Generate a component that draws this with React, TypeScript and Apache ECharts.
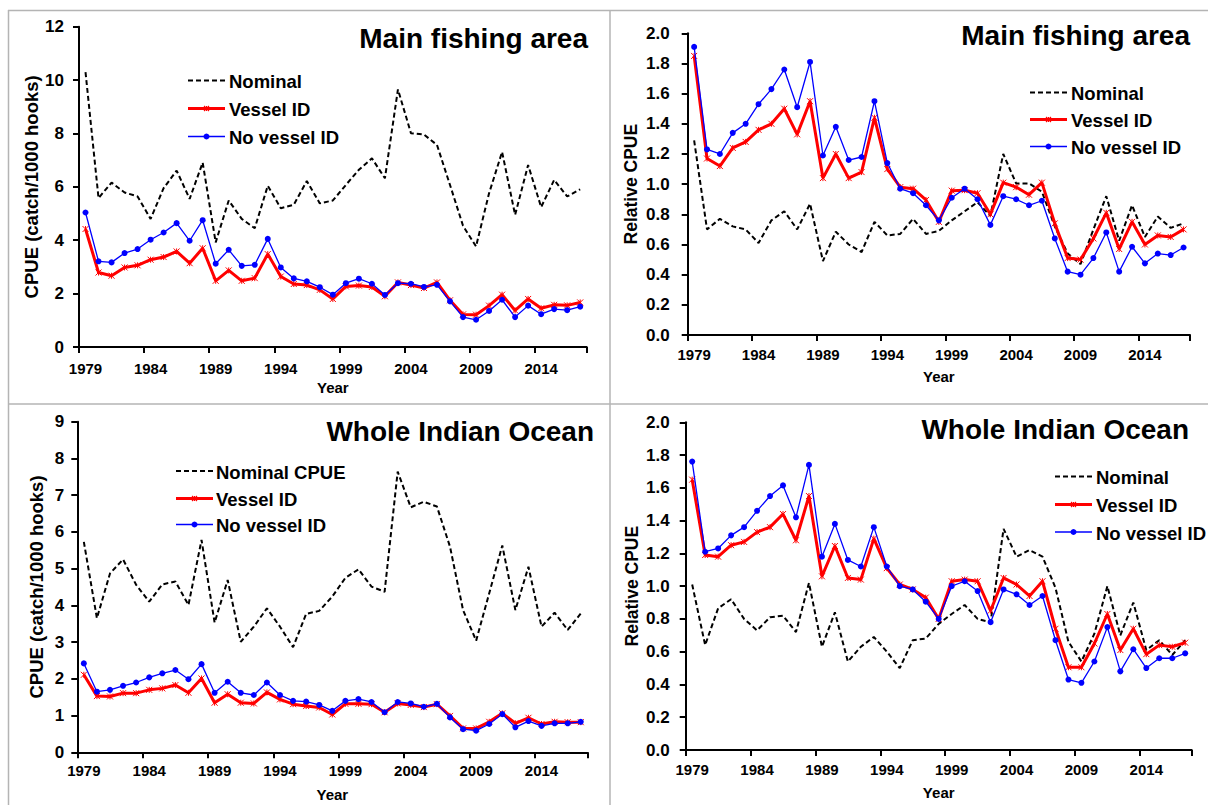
import React, { useEffect, useRef } from "react";
import * as echarts from "echarts";

// Fishing years shown on every panel
const years = [
  "1979", "1980", "1981", "1982", "1983", "1984", "1985", "1986", "1987", "1988",
  "1989", "1990", "1991", "1992", "1993", "1994", "1995", "1996", "1997", "1998",
  "1999", "2000", "2001", "2002", "2003", "2004", "2005", "2006", "2007", "2008",
  "2009", "2010", "2011", "2012", "2013", "2014", "2015", "2016", "2017",
];

// Main fishing area, CPUE (catch/1000 hooks)
const mainNominal = [10.3, 5.58, 6.16, 5.79, 5.64, 4.8, 5.95, 6.61, 5.55, 6.91, 3.92, 5.49, 4.8, 4.45, 6.04, 5.2, 5.33, 6.22, 5.38, 5.49, 6.07, 6.64, 7.07, 6.32, 9.65, 8.01, 7.96, 7.57, 6.07, 4.54, 3.77, 5.76, 7.31, 4.95, 6.82, 5.24, 6.26, 5.64, 5.91];
const mainVessel = [4.42, 2.79, 2.67, 2.98, 3.06, 3.27, 3.37, 3.58, 3.14, 3.7, 2.48, 2.87, 2.48, 2.58, 3.48, 2.64, 2.36, 2.32, 2.14, 1.8, 2.27, 2.3, 2.25, 1.9, 2.42, 2.32, 2.21, 2.42, 1.75, 1.22, 1.21, 1.55, 1.96, 1.37, 1.8, 1.45, 1.58, 1.56, 1.67];
const mainNoVessel = [5.04, 3.21, 3.17, 3.52, 3.67, 4.02, 4.29, 4.64, 3.98, 4.75, 3.12, 3.64, 3.04, 3.08, 4.05, 2.98, 2.57, 2.46, 2.24, 1.96, 2.39, 2.56, 2.37, 1.95, 2.39, 2.37, 2.25, 2.33, 1.71, 1.12, 1.02, 1.35, 1.77, 1.12, 1.55, 1.23, 1.42, 1.38, 1.51];

// Main fishing area, relative CPUE
const mainRelNominal = [1.29, 0.7, 0.77, 0.72, 0.7, 0.61, 0.76, 0.82, 0.7, 0.87, 0.49, 0.685, 0.6, 0.55, 0.75, 0.66, 0.67, 0.77, 0.67, 0.69, 0.76, 0.82, 0.88, 0.79, 1.2, 1.005, 1.005, 0.95, 0.72, 0.54, 0.47, 0.7, 0.92, 0.625, 0.86, 0.65, 0.785, 0.71, 0.74];
const mainRelVessel = [1.85, 1.17, 1.12, 1.24, 1.28, 1.36, 1.4, 1.5, 1.33, 1.55, 1.04, 1.2, 1.04, 1.08, 1.44, 1.1, 0.98, 0.97, 0.895, 0.75, 0.957, 0.96, 0.94, 0.8, 1.01, 0.98, 0.93, 1.01, 0.74, 0.51, 0.5, 0.64, 0.81, 0.57, 0.75, 0.6, 0.66, 0.65, 0.7];
const mainRelNoVessel = [1.91, 1.23, 1.2, 1.34, 1.4, 1.53, 1.63, 1.76, 1.51, 1.81, 1.19, 1.38, 1.16, 1.18, 1.55, 1.14, 0.97, 0.94, 0.86, 0.76, 0.91, 0.97, 0.9, 0.73, 0.92, 0.9, 0.86, 0.89, 0.64, 0.42, 0.4, 0.51, 0.68, 0.42, 0.585, 0.475, 0.54, 0.53, 0.58];

// Whole Indian Ocean, CPUE (catch/1000 hooks)
const wholeNominal = [5.73, 3.65, 4.87, 5.25, 4.56, 4.1, 4.57, 4.65, 4.01, 5.78, 3.53, 4.69, 3.01, 3.42, 3.92, 3.42, 2.86, 3.77, 3.85, 4.24, 4.75, 4.98, 4.51, 4.37, 7.64, 6.67, 6.82, 6.69, 5.6, 3.87, 3.04, 4.33, 5.63, 3.87, 5.05, 3.42, 3.8, 3.33, 3.78];
const wholeVessel = [2.11, 1.53, 1.52, 1.61, 1.61, 1.7, 1.74, 1.83, 1.62, 2.01, 1.35, 1.58, 1.35, 1.33, 1.63, 1.44, 1.31, 1.26, 1.22, 1.03, 1.32, 1.32, 1.31, 1.09, 1.33, 1.29, 1.23, 1.31, 0.99, 0.65, 0.65, 0.83, 1.06, 0.79, 0.94, 0.77, 0.83, 0.82, 0.82];
const wholeNoVessel = [2.42, 1.65, 1.7, 1.81, 1.9, 2.04, 2.15, 2.24, 1.99, 2.4, 1.62, 1.92, 1.62, 1.56, 1.9, 1.56, 1.4, 1.38, 1.29, 1.13, 1.4, 1.45, 1.37, 1.09, 1.37, 1.33, 1.24, 1.32, 0.95, 0.63, 0.59, 0.77, 1.04, 0.68, 0.85, 0.72, 0.79, 0.79, 0.83];

// Whole Indian Ocean, relative CPUE
const wholeRelNominal = [1.01, 0.64, 0.865, 0.92, 0.8, 0.73, 0.81, 0.82, 0.72, 1.02, 0.63, 0.84, 0.54, 0.63, 0.69, 0.6, 0.5, 0.67, 0.68, 0.77, 0.83, 0.885, 0.8, 0.78, 1.35, 1.18, 1.22, 1.18, 0.99, 0.66, 0.54, 0.71, 1.0, 0.7, 0.9, 0.61, 0.67, 0.58, 0.67];
const wholeRelVessel = [1.65, 1.19, 1.18, 1.25, 1.27, 1.33, 1.36, 1.44, 1.28, 1.55, 1.06, 1.245, 1.05, 1.04, 1.29, 1.11, 1.01, 0.98, 0.93, 0.8, 1.03, 1.04, 1.03, 0.85, 1.05, 1.01, 0.94, 1.03, 0.74, 0.505, 0.505, 0.65, 0.83, 0.61, 0.74, 0.585, 0.64, 0.63, 0.655];
const wholeRelNoVessel = [1.76, 1.21, 1.23, 1.31, 1.36, 1.46, 1.55, 1.615, 1.42, 1.74, 1.18, 1.38, 1.16, 1.12, 1.36, 1.12, 1.0, 0.98, 0.905, 0.8, 1.0, 1.03, 0.97, 0.78, 0.98, 0.95, 0.885, 0.94, 0.67, 0.43, 0.41, 0.54, 0.75, 0.48, 0.615, 0.5, 0.56, 0.56, 0.59];

const FONT = "'Liberation Sans', Arial, Helvetica, sans-serif";
const STAR = "path://M0,0L8,8M8,0L0,8M4,0L4,8";
const RED = "#ff0000";
const BLUE = "#0000ff";
const BORDER = "#b4b4b4";

type Panel = {
  grid: { left: number; top: number; width: number; height: number };
  yMax: number;
  yStep: number;
  decimals: number;
  yName: string;
  yNameSize: number;
  yNameGap: number;
  yLabelMargin: number;
  xNameGap: number;
  xLabelMargin: number;
  title: string;
  titleX: number;
  titleY: number;
  legend: { x1: number; x2: number; tx: number; rows: number[] };
  names: string[];
  nominal: number[];
  vessel: number[];
  noVessel: number[];
};

const panels: Panel[] = [
  {
    grid: { left: 79, top: 26.7, width: 507.7, height: 320.3 },
    yMax: 12, yStep: 2, decimals: 0,
    yName: "CPUE (catch/1000 hooks)", yNameSize: 18.5, yNameGap: 37, yLabelMargin: 15,
    xNameGap: 33, xLabelMargin: 14,
    title: "Main fishing area", titleX: 588, titleY: 38.5,
    legend: { x1: 188, x2: 225, tx: 229, rows: [80.5, 108.5, 136.5] },
    names: ["Nominal", "Vessel ID", "No vessel ID"],
    nominal: mainNominal, vessel: mainVessel, noVessel: mainNoVessel,
  },
  {
    grid: { left: 687.7, top: 33.3, width: 502.3, height: 301.7 },
    yMax: 2, yStep: 0.2, decimals: 1,
    yName: "Relative CPUE", yNameSize: 17.5, yNameGap: 48, yLabelMargin: 18,
    xNameGap: 34, xLabelMargin: 12,
    title: "Main fishing area", titleX: 1190, titleY: 35,
    legend: { x1: 1030, x2: 1067, tx: 1071, rows: [92.5, 119.5, 146.5] },
    names: ["Nominal", "Vessel ID", "No vessel ID"],
    nominal: mainRelNominal, vessel: mainRelVessel, noVessel: mainRelNoVessel,
  },
  {
    grid: { left: 77.3, top: 421.7, width: 510, height: 330.6 },
    yMax: 9, yStep: 1, decimals: 0,
    yName: "CPUE (catch/1000 hooks)", yNameSize: 18.5, yNameGap: 31, yLabelMargin: 13,
    xNameGap: 35, xLabelMargin: 11,
    title: "Whole Indian Ocean", titleX: 594, titleY: 431,
    legend: { x1: 176, x2: 213, tx: 216, rows: [471, 498.5, 524.5] },
    names: ["Nominal CPUE", "Vessel ID", "No vessel ID"],
    nominal: wholeNominal, vessel: wholeVessel, noVessel: wholeNoVessel,
  },
  {
    grid: { left: 685.7, top: 422.3, width: 506, height: 327.7 },
    yMax: 2, yStep: 0.2, decimals: 1,
    yName: "Relative CPUE", yNameSize: 17.5, yNameGap: 45, yLabelMargin: 16,
    xNameGap: 35, xLabelMargin: 12,
    title: "Whole Indian Ocean", titleX: 1189, titleY: 429,
    legend: { x1: 1055, x2: 1092, tx: 1096, rows: [476.5, 504.5, 532] },
    names: ["Nominal", "Vessel ID", "No vessel ID"],
    nominal: wholeRelNominal, vessel: wholeRelVessel, noVessel: wholeRelNoVessel,
  },
];

const axisLineStyle = { color: "#000", width: 2 };

function starMarker(cx: number, cy: number, s: number) {
  const h = s / 2;
  const st = { stroke: RED, lineWidth: 1.1 };
  return [
    { type: "line", shape: { x1: cx - h, y1: cy - h, x2: cx + h, y2: cy + h }, style: st, z: 12 },
    { type: "line", shape: { x1: cx + h, y1: cy - h, x2: cx - h, y2: cy + h }, style: st, z: 12 },
    { type: "line", shape: { x1: cx, y1: cy - h, x2: cx, y2: cy + h }, style: st, z: 12 },
  ];
}

function legendGraphics(p: Panel) {
  const { x1, x2, tx, rows } = p.legend;
  const mid = (x1 + x2) / 2;
  const textStyle = (text: string) => ({
    text,
    fill: "#000",
    fontSize: 18.5,
    fontWeight: "bold",
    fontFamily: FONT,
    align: "left",
    verticalAlign: "middle",
    textAlign: "left",
    textVerticalAlign: "middle",
  });
  return [
    { type: "line", shape: { x1, y1: rows[0], x2, y2: rows[0] }, style: { stroke: "#000", lineWidth: 2, lineDash: [5, 3] }, z: 11 },
    { type: "text", x: tx, y: rows[0] + 1, style: textStyle(p.names[0]), z: 11 },
    { type: "line", shape: { x1, y1: rows[1], x2, y2: rows[1] }, style: { stroke: RED, lineWidth: 3 }, z: 11 },
    ...starMarker(mid, rows[1], 5),
    { type: "text", x: tx, y: rows[1] + 1, style: textStyle(p.names[1]), z: 11 },
    { type: "line", shape: { x1, y1: rows[2], x2, y2: rows[2] }, style: { stroke: BLUE, lineWidth: 1.3 }, z: 11 },
    { type: "circle", shape: { cx: mid, cy: rows[2], r: 3 }, style: { fill: BLUE }, z: 12 },
    { type: "text", x: tx, y: rows[2] + 1, style: textStyle(p.names[2]), z: 11 },
  ];
}

function buildOption() {
  const series: any[] = [];
  panels.forEach((p, i) => {
    series.push({
      type: "line", name: p.names[0], xAxisIndex: i, yAxisIndex: i, data: p.nominal,
      symbol: "none", lineStyle: { color: "#000", width: 2, type: [5, 3] }, itemStyle: { color: "#000" }, z: 2,
    });
    series.push({
      type: "line", name: p.names[1], xAxisIndex: i, yAxisIndex: i, data: p.vessel,
      symbol: STAR, symbolSize: 6, showAllSymbol: true,
      lineStyle: { color: RED, width: 3 },
      itemStyle: { color: RED, borderColor: RED, borderWidth: 1 }, z: 3,
    });
    series.push({
      type: "line", name: p.names[2], xAxisIndex: i, yAxisIndex: i, data: p.noVessel,
      symbol: "circle", symbolSize: 6, showAllSymbol: true,
      lineStyle: { color: BLUE, width: 1.3 },
      itemStyle: { color: BLUE }, z: 4,
    });
  });

  const borders = [
    { type: "line", shape: { x1: 8, y1: 10.5, x2: 1208, y2: 10.5 } },
    { type: "line", shape: { x1: 8.5, y1: 10, x2: 8.5, y2: 805 } },
    { type: "line", shape: { x1: 610, y1: 10, x2: 610, y2: 805 } },
    { type: "line", shape: { x1: 8, y1: 404, x2: 1208, y2: 404 } },
  ].map((b) => ({ ...b, style: { stroke: BORDER, lineWidth: 1.5 }, z: 1 }));

  const titles = panels.map((p) => ({
    type: "text",
    x: p.titleX,
    y: p.titleY,
    z: 11,
    style: {
      text: p.title,
      fill: "#000",
      fontSize: 28,
      fontWeight: "bold",
      fontFamily: FONT,
      align: "right",
      verticalAlign: "middle",
      textAlign: "right",
      textVerticalAlign: "middle",
    },
  }));

  return {
    animation: false,
    backgroundColor: "#fff",
    textStyle: { fontFamily: FONT },
    grid: panels.map((p) => ({ ...p.grid, containLabel: false })),
    xAxis: panels.map((p, i) => ({
      type: "category",
      gridIndex: i,
      data: years,
      boundaryGap: true,
      name: "Year",
      nameLocation: "middle",
      nameGap: p.xNameGap,
      nameTextStyle: { fontSize: 15, fontWeight: "bold", color: "#000", fontFamily: FONT },
      axisLine: { show: true, lineStyle: axisLineStyle },
      axisTick: { show: true, interval: 4, length: 6, lineStyle: axisLineStyle },
      axisLabel: { interval: 4, margin: p.xLabelMargin, fontSize: 15, fontWeight: "bold", color: "#000", fontFamily: FONT },
      splitLine: { show: false },
    })),
    yAxis: panels.map((p, i) => ({
      type: "value",
      gridIndex: i,
      min: 0,
      max: p.yMax,
      interval: p.yStep,
      name: p.yName,
      nameLocation: "middle",
      nameGap: p.yNameGap,
      nameRotate: 90,
      nameTextStyle: { fontSize: p.yNameSize, fontWeight: "bold", color: "#000", fontFamily: FONT },
      axisLine: { show: true, lineStyle: axisLineStyle },
      axisTick: { show: true, length: 6, lineStyle: axisLineStyle },
      axisLabel: {
        margin: p.yLabelMargin,
        fontSize: 17,
        fontWeight: "bold",
        color: "#000",
        fontFamily: FONT,
        formatter: (v: number) => v.toFixed(p.decimals),
      },
      splitLine: { show: false },
    })),
    series,
    graphic: [...borders, ...titles, ...panels.flatMap(legendGraphics)],
  };
}

export default function App() {
  const ref = useRef<HTMLDivElement>(null);

  useEffect(() => {
    if (!ref.current) return;
    const chart = echarts.init(ref.current, undefined, { renderer: "svg" });
    chart.setOption(buildOption() as any);
    return () => chart.dispose();
  }, []);

  return (
    <div
      ref={ref}
      style={{ position: "absolute", left: 0, top: 0, width: 1208, height: 805, background: "#fff" }}
    />
  );
}
